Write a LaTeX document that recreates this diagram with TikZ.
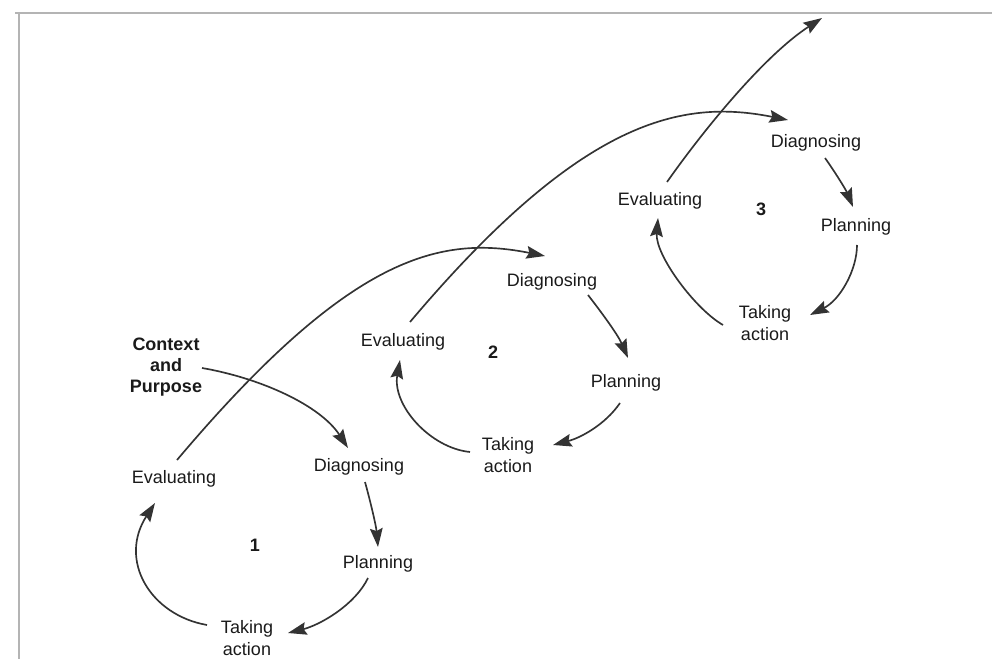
\documentclass[tikz,border=0pt]{standalone}
\usepackage{fontspec}
\setmainfont{Liberation Sans}
\usetikzlibrary{arrows.meta}
\definecolor{inkline}{HTML}{333333}
\definecolor{inktext}{HTML}{1A1A1A}
\definecolor{framegray}{HTML}{B4B4B4}
\begin{document}
\begin{tikzpicture}[x=0.75pt,y=-0.75pt,
  lbl/.style={inner sep=0pt, align=center, text=inktext,
    font=\fontsize{13.5}{17}\selectfont},
  num/.style={lbl, font=\fontsize{13.5}{17}\selectfont\bfseries},
  arr/.style={draw=inkline, line width=1.25pt,
    -{Stealth[length=14pt,width=9.5pt,inset=2pt]}},
  frameline/.style={draw=framegray, line width=1.6pt}]
\useasboundingbox (0,0) rectangle (992,659);

% page frame
\draw[frameline] (15,13) -- (992,13);
\draw[frameline] (19,13) -- (19,659);

% cycle 1
\node[lbl, font=\fontsize{13.5}{15.5}\selectfont\bfseries] (cp) at (166,367) {Context\\and\\Purpose};
\node[lbl] (e1) at (174,479) {Evaluating};
\node[lbl] (d1) at (359,467) {Diagnosing};
\node[lbl] (p1) at (378,564) {Planning};
\node[lbl] (t1) at (247,638) {Taking\\action};
\node[num] (n1) at (255,545) {1};

% cycle 2
\node[lbl] (e2) at (403,342) {Evaluating};
\node[lbl] (d2) at (552,282) {Diagnosing};
\node[lbl] (p2) at (626,383) {Planning};
\node[lbl] (t2) at (508,455) {Taking\\action};
\node[num] (n2) at (493,352) {2};

% cycle 3
\node[lbl] (e3) at (660,201) {Evaluating};
\node[lbl] (d3) at (816,143) {Diagnosing};
\node[lbl] (p3) at (856,227) {Planning};
\node[lbl] (t3) at (765,323) {Taking\\action};
\node[num] (n3) at (761,209) {3};

\coordinate (onward) at (822,18);

% cycle 1 arrows
\draw[arr] ([shift={(36,1)}]cp.center) .. controls +(58,10) and +(-28,-43) .. ([shift={(-11,-19)}]d1.center);
\draw[arr] ([shift={(6,15)}]d1.center) .. controls +(5,18) and +(-2,-22) .. ([shift={(0,-17)}]p1.center);
\draw[arr] ([shift={(-10,14)}]p1.center) .. controls +(-13,27) and +(32,-8) .. ([shift={(41,-5)}]t1.center);
\draw[arr] ([shift={(-40,-13)}]t1.center) .. controls +(-57,-10) and +(-37,57) .. ([shift={(-19,24)}]e1.center);

% spiral links between cycles
\draw[arr] ([shift={(3,-19)}]e1.center) .. controls +(173,-205) and +(-105,-21) .. ([shift={(-7,-26)}]d2.center);
\draw[arr] ([shift={(7,-20)}]e2.center) .. controls +(173,-205) and +(-105,-21) .. ([shift={(-28,-23)}]d3.center);
\draw[arr] ([shift={(7,-19)}]e3.center) .. controls +(38,-54) and +(-57,37) .. (onward);

% cycle 2 arrows
\draw[arr] ([shift={(36,13)}]d2.center) .. controls +(14,18) and +(-10,-23) .. ([shift={(2,-25)}]p2.center);
\draw[arr] ([shift={(-6,20)}]p2.center) .. controls +(-15,22) and +(27,-7) .. ([shift={(45,-10)}]t2.center);
\draw[arr] ([shift={(-38,-3)}]t2.center) .. controls +(-40,-4) and +(-8,45) .. ([shift={(-3,18)}]e2.center);

% cycle 3 arrows
\draw[arr] ([shift={(9,15)}]d3.center) .. controls +(10,14) and +(-7,-17) .. ([shift={(-3,-20)}]p3.center);
\draw[arr] ([shift={(1,18)}]p3.center) .. controls +(0,25) and +(30,-15) .. ([shift={(45,-8)}]t3.center);
\draw[arr] ([shift={(-42,2)}]t3.center) .. controls +(-28,-16) and +(-3,37) .. ([shift={(-2,17)}]e3.center);
\end{tikzpicture}
\end{document}
